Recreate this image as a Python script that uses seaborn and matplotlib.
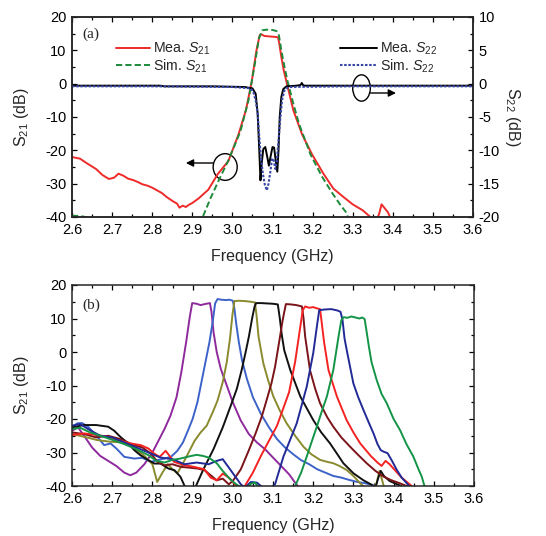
import numpy as np
import pandas as pd
import seaborn as sns
import matplotlib.pyplot as plt
from matplotlib.patches import Ellipse
from matplotlib.ticker import MultipleLocator, FormatStrFormatter

# ---- panel (a): S21 (left axis) and S22 (right axis)
mea_s21_f = [2.6, 2.62, 2.636, 2.66, 2.676, 2.692, 2.705, 2.716, 2.728, 2.74, 2.752, 2.764, 2.776, 2.788,
             2.8, 2.812, 2.824, 2.836, 2.852, 2.862, 2.868, 2.876, 2.884, 2.892, 2.9, 2.916, 2.94, 2.963,
             2.99, 3.015, 3.034, 3.048, 3.06, 3.068, 3.072, 3.08, 3.09, 3.1, 3.11, 3.114, 3.117, 3.122,
             3.128, 3.137, 3.152, 3.174, 3.199, 3.228, 3.252, 3.277, 3.3, 3.325, 3.346, 3.358, 3.366,
             3.372, 3.38, 3.388, 3.398]
mea_s21_v = [-22.0, -22.5, -23.8, -25.6, -27.4, -28.6, -28.2, -27.0, -27.6, -28.5, -28.9, -29.5, -30.2, -30.6,
             -31.2, -32.0, -32.8, -34.0, -35.3, -36.0, -37.2, -36.6, -37.0, -36.3, -35.8, -34.4, -31.8, -27.2,
             -23.2, -15.3, -7.8, 0.5, 10.0, 14.5, 14.8, 14.3, 14.2, 14.1, 14.0, 13.8, 12.0, 8.0,
             4.0, -0.5, -8.0, -15.3, -21.3, -27.2, -31.5, -34.0, -36.2, -38.0, -40.2, -41.5, -39.0,
             -36.2, -37.4, -38.6, -41.5]

sim_s21_f = [2.6, 2.62, 2.638, 2.65, 2.66, 2.9, 2.915, 2.926, 2.945, 2.966, 2.99, 3.02, 3.04, 3.056, 3.066,
             3.074, 3.085, 3.1, 3.11, 3.116, 3.122, 3.13, 3.137, 3.152, 3.166, 3.195, 3.224, 3.25, 3.27,
             3.283, 3.29, 3.3]
sim_s21_v = [-39.6, -39.7, -40.1, -41.5, -45.0, -50.0, -44.0, -40.0, -34.5, -29.0, -23.0, -14.3, -5.0, 6.0, 13.5,
             16.0, 16.2, 16.1, 15.8, 14.5, 10.0, 5.0, 1.0, -6.0, -12.0, -21.3, -28.0, -33.0, -36.5,
             -38.5, -40.5, -44.0]

mea_s22_f = [2.6, 2.7, 2.82, 2.83, 2.95, 3.03, 3.05, 3.058, 3.063, 3.067, 3.07, 3.073, 3.077, 3.082, 3.087,
             3.091, 3.095, 3.1, 3.104, 3.108, 3.112, 3.115, 3.118, 3.122, 3.127, 3.135, 3.16, 3.17, 3.173,
             3.176, 3.18, 3.3, 3.45, 3.6]
mea_s22_v = [-0.3, -0.3, -0.3, -0.4, -0.4, -0.5, -0.7, -1.5, -4.5, -10.0, -14.5, -12.0, -9.8, -9.5, -11.0,
             -12.3, -11.0, -9.5, -9.6, -11.5, -13.2, -10.0, -5.0, -2.0, -0.8, -0.4, -0.3, -0.2, 0.1,
             -0.2, -0.3, -0.3, -0.3, -0.3]

sim_s22_f = [2.6, 2.8, 3.0, 3.045, 3.052, 3.058, 3.063, 3.068, 3.072, 3.076, 3.081, 3.086, 3.09, 3.094,
             3.099, 3.103, 3.107, 3.111, 3.115, 3.119, 3.124, 3.13, 3.14, 3.3, 3.6]
sim_s22_v = [-0.4, -0.4, -0.5, -0.7, -1.2, -2.5, -4.5, -8.8, -11.5, -13.5, -15.2, -16.0, -15.0, -13.5,
             -11.2, -11.5, -12.8, -11.5, -8.5, -5.5, -2.4, -1.0, -0.5, -0.4, -0.4]

# ---- panel (b): measured S21 of eight tuning states
purple_f = [2.6, 2.615, 2.63, 2.65, 2.67, 2.69, 2.71, 2.73, 2.745, 2.76, 2.78, 2.8, 2.815, 2.83, 2.845,
            2.86, 2.872, 2.884, 2.893, 2.899, 2.91, 2.92, 2.93, 2.943, 2.947, 2.952, 2.96, 2.97, 2.985,
            3.0, 3.02, 3.04, 3.06, 3.08, 3.1, 3.12, 3.14, 3.155, 3.165]
purple_v = [-23.5, -22.5, -25.0, -28.5, -31.0, -32.5, -34.0, -36.0, -36.8, -36.0, -33.5, -30.0, -26.5, -23.0, -19.0,
            -13.5, -6.0, 3.0, 10.5, 14.6, 14.4, 14.0, 14.3, 14.6, 12.0, 6.0, 0.0, -5.0, -10.0,
            -15.0, -20.5, -24.5, -27.0, -29.0, -31.5, -34.0, -36.5, -39.0, -40.5]

blue_f = [2.6, 2.613, 2.625, 2.64, 2.663, 2.68, 2.696, 2.712, 2.73, 2.755, 2.775, 2.796, 2.812, 2.83, 2.846,
          2.862, 2.876, 2.89, 2.9, 2.912, 2.922, 2.932, 2.942, 2.95, 2.956, 2.962, 2.972, 2.982, 2.992, 3.0,
          3.004, 3.009, 3.015, 3.023, 3.035, 3.05, 3.07, 3.09, 3.11, 3.13, 3.15, 3.17, 3.19, 3.21, 3.23,
          3.25, 3.27, 3.29, 3.31, 3.33, 3.35, 3.362]
blue_v = [-22.5, -21.3, -21.2, -22.3, -25.3, -27.8, -27.3, -29.0, -31.3, -31.8, -31.6, -32.8, -32.3, -31.8, -31.3,
          -29.5, -27.0, -23.0, -20.0, -15.0, -9.0, -3.0, 3.0, 9.0, 14.5, 15.8, 15.6, 15.5, 15.6, 15.3,
          13.0, 8.0, 3.0, -2.5, -8.0, -13.5, -18.5, -22.5, -26.0, -28.5, -30.5, -32.3, -33.5, -35.0, -36.0,
          -37.0, -37.5, -38.2, -38.8, -39.2, -39.8, -40.5]

olive_f = [2.6, 2.63, 2.663, 2.696, 2.73, 2.75, 2.78, 2.8, 2.812, 2.825, 2.838, 2.85, 2.862, 2.875, 2.89,
           2.905, 2.92, 2.935, 2.95, 2.962, 2.975, 2.985, 2.993, 2.999, 3.004, 3.015, 3.03, 3.045, 3.055,
           3.059, 3.064, 3.076, 3.088, 3.101, 3.117, 3.134, 3.155, 3.176, 3.195, 3.217, 3.235, 3.25, 3.265,
           3.283, 3.3, 3.317, 3.328, 3.345, 3.358, 3.365, 3.372, 3.38]
olive_v = [-24.5, -25.3, -26.3, -26.8, -27.0, -28.3, -31.0, -33.5, -38.8, -36.0, -33.5, -35.0, -36.2, -33.5, -30.0,
           -26.5, -24.0, -22.0, -18.0, -14.5, -9.0, -3.0, 4.0, 11.0, 15.2, 15.3, 15.2, 15.0, 14.8,
           11.0, 4.6, -3.4, -8.5, -13.3, -17.5, -21.3, -25.0, -28.3, -30.5, -32.2, -32.8, -33.2, -34.0,
           -35.2, -37.0, -39.2, -40.5, -42.0, -39.0, -35.5, -38.5, -42.0]

black_f = [2.6, 2.63, 2.66, 2.69, 2.705, 2.72, 2.74, 2.755, 2.77, 2.79, 2.805, 2.82, 2.84, 2.855, 2.87,
           2.882, 2.895, 2.905, 2.912, 2.927, 2.952, 2.975, 2.995, 3.01, 3.022, 3.032, 3.04, 3.048, 3.054,
           3.058, 3.07, 3.085, 3.1, 3.112, 3.117, 3.122, 3.128, 3.143, 3.168, 3.2, 3.22, 3.242, 3.26,
           3.275, 3.3, 3.325, 3.345, 3.355, 3.362, 3.368, 3.376, 3.39, 3.405, 3.415, 3.425]
black_v = [-22.5, -21.8, -21.8, -22.3, -23.5, -25.3, -27.3, -29.3, -30.8, -32.3, -33.3, -33.3, -34.8, -35.3, -37.3,
           -40.5, -43.0, -41.0, -39.0, -35.0, -29.0, -22.5, -16.0, -11.0, -5.4, 0.0, 4.6, 10.0, 13.5,
           14.6, 14.6, 14.5, 14.4, 14.2, 10.0, 5.0, 0.5, -5.4, -13.3, -20.3, -24.0, -27.3, -30.5,
           -33.2, -36.2, -38.3, -39.6, -40.5, -37.5, -35.5, -37.0, -38.5, -39.3, -39.8, -40.5]

maroon_f = [2.6, 2.63, 2.66, 2.69, 2.72, 2.754, 2.775, 2.796, 2.813, 2.83, 2.85, 2.871, 2.89, 2.913, 2.93,
            2.945, 2.96, 2.975, 2.99, 3.0, 3.02, 3.04, 3.056, 3.072, 3.085, 3.096, 3.105, 3.112, 3.118,
            3.124, 3.132, 3.145, 3.158, 3.172, 3.176, 3.18, 3.192, 3.205, 3.217, 3.235, 3.25, 3.27, 3.292,
            3.31, 3.333, 3.355, 3.375, 3.395, 3.416, 3.442]
maroon_v = [-24.0, -24.5, -25.5, -25.0, -26.0, -27.8, -28.5, -30.3, -32.8, -33.8, -33.5, -34.3, -34.5, -34.8, -35.3,
            -36.8, -38.3, -37.8, -39.5, -38.5, -35.0, -29.3, -24.5, -19.3, -14.0, -9.4, -4.5, 0.6, 5.0,
            9.5, 14.3, 14.2, 14.0, 13.6, 10.0, 4.6, -5.4, -11.0, -15.3, -19.5, -22.3, -25.5, -28.3,
            -30.5, -33.2, -35.5, -37.2, -38.3, -39.2, -40.5]

red_f = [2.6, 2.63, 2.663, 2.69, 2.713, 2.746, 2.771, 2.79, 2.804, 2.818, 2.833, 2.854, 2.879, 2.904, 2.929,
         2.945, 2.96, 2.975, 2.99, 3.0, 3.012, 3.02, 3.03, 3.05, 3.07, 3.09, 3.11, 3.125, 3.14, 3.155,
         3.166, 3.174, 3.18, 3.19, 3.2, 3.21, 3.217, 3.221, 3.227, 3.238, 3.259, 3.283, 3.3, 3.317, 3.343,
         3.36, 3.37, 3.38, 3.39, 3.405, 3.42, 3.435, 3.45]
red_v = [-24.8, -24.3, -24.8, -25.3, -26.3, -27.3, -27.8, -28.8, -30.3, -31.3, -29.5, -32.8, -33.8, -34.3, -35.0,
         -37.5, -38.3, -36.3, -37.5, -38.8, -40.5, -41.5, -40.0, -36.0, -31.0, -26.5, -22.0, -17.0, -12.0, -3.0,
         6.0, 12.5, 13.6, 13.2, 13.4, 13.0, 12.8, 9.0, 3.0, -5.4, -13.3, -20.3, -24.0, -27.3, -31.0,
         -33.0, -34.0, -32.5, -33.5, -35.5, -37.5, -39.0, -40.5]

navy_f = [2.6, 2.62, 2.64, 2.67, 2.7, 2.73, 2.76, 2.79, 2.82, 2.85, 2.88, 2.91, 2.94, 2.96, 2.975,
          2.99, 3.005, 3.02, 3.03, 3.045, 3.06, 3.075, 3.09, 3.105, 3.126, 3.159, 3.184, 3.2, 3.209, 3.215,
          3.23, 3.245, 3.26, 3.268, 3.273, 3.278, 3.285, 3.3, 3.312, 3.325, 3.338, 3.35, 3.36, 3.368,
          3.376, 3.385, 3.396, 3.408, 3.42, 3.433, 3.442]
navy_v = [-22.0, -21.5, -23.0, -25.0, -25.5, -27.0, -28.5, -30.0, -31.5, -32.0, -33.5, -33.0, -33.5, -32.5, -32.0,
          -34.5, -37.0, -39.5, -40.5, -38.8, -39.0, -40.5, -41.0, -39.5, -31.2, -21.3, -10.3, -0.4, 7.5, 12.5,
          12.7, 12.8, 12.4, 12.0, 9.5, 4.0, -0.4, -9.4, -13.5, -17.3, -21.0, -24.3, -27.5, -29.3,
          -29.8, -30.2, -32.5, -35.2, -37.5, -39.2, -40.5]

green_f = [2.6, 2.62, 2.645, 2.67, 2.7, 2.73, 2.76, 2.79, 2.81, 2.83, 2.85, 2.87, 2.89, 2.91, 2.925,
           2.94, 2.96, 2.975, 2.99, 3.0, 3.018, 3.03, 3.045, 3.055, 3.065, 3.08, 3.12, 3.145, 3.155, 3.17,
           3.184, 3.197, 3.209, 3.222, 3.234, 3.25, 3.263, 3.27, 3.276, 3.285, 3.295, 3.305, 3.315, 3.322,
           3.328, 3.333, 3.338, 3.345, 3.358, 3.37, 3.383, 3.4, 3.416, 3.432, 3.449, 3.462, 3.47, 3.478]
green_v = [-23.0, -22.6, -24.0, -25.0, -26.2, -27.5, -29.0, -30.8, -32.5, -33.0, -32.2, -31.8, -31.2, -30.7, -31.0,
           -31.5, -33.2, -35.5, -37.5, -38.7, -40.3, -41.5, -39.3, -39.0, -40.5, -42.0, -43.0, -41.5, -40.0, -36.0,
           -31.2, -26.5, -22.3, -17.5, -13.3, -5.4, 4.6, 9.5, 10.4, 10.2, 10.6, 10.3, 10.0, 10.3,
           9.8, 6.0, 2.0, -3.0, -8.4, -12.5, -15.3, -20.0, -23.3, -27.5, -31.2, -35.0, -37.2, -40.5]

curve_names = ['purple', 'blue', 'olive', 'black', 'maroon', 'red', 'navy', 'green']
curve_colors = ['#8e2a9c', '#3d63c9', '#8a8a2e', '#111111', '#7a1418', '#f52222', '#222a96', '#139447']

# Style
sns.set_style('ticks')
plt.rcParams['font.family'] = ['Liberation Sans', 'DejaVu Sans']
plt.rcParams['mathtext.fontset'] = 'custom'
plt.rcParams['mathtext.rm'] = 'Liberation Sans'
plt.rcParams['mathtext.it'] = 'Liberation Sans:italic'
plt.rcParams['axes.unicode_minus'] = False
plt.rcParams['axes.linewidth'] = 1.1
for a in ['xtick', 'ytick']:
    plt.rcParams[a + '.direction'] = 'in'
    plt.rcParams[a + '.major.size'] = 3.5
    plt.rcParams[a + '.minor.size'] = 2.2
    plt.rcParams[a + '.major.width'] = 0.9
    plt.rcParams[a + '.minor.width'] = 0.9
    plt.rcParams[a + '.labelsize'] = 10.5
    plt.rcParams[a + '.color'] = 'black'


def style_freq_axis(ax):
    ax.set_xlim(2.6, 3.6)
    ax.xaxis.set_major_locator(MultipleLocator(0.1))
    ax.xaxis.set_minor_locator(MultipleLocator(0.05))
    ax.xaxis.set_major_formatter(FormatStrFormatter('%.1f'))
    ax.set_ylim(-40, 20)
    ax.yaxis.set_major_locator(MultipleLocator(10))
    ax.yaxis.set_minor_locator(MultipleLocator(5))
    ax.set_xlabel('Frequency (GHz)', fontsize=11.5, labelpad=9)
    ax.set_ylabel('S$_{21}$ (dB)', fontsize=11.5, labelpad=10)
    ax.tick_params(which='both', top=True, pad=4)


fig = plt.figure(figsize=(5.46, 5.36), dpi=100)
ax1 = fig.add_axes([72 / 546, 1 - 217 / 536, 401 / 546, 200 / 536])
ax2 = fig.add_axes([72 / 546, 1 - 486 / 536, 402 / 546, 201 / 536])

# ---- panel (a)
sns.lineplot(x=mea_s21_f, y=mea_s21_v, ax=ax1, color='#ee2a2a', lw=1.4, estimator=None, sort=False)
sns.lineplot(x=sim_s21_f, y=sim_s21_v, ax=ax1, color='#1d8a3a', lw=1.4, ls=(0, (3.2, 1.6)),
             estimator=None, sort=False)
style_freq_axis(ax1)
ax1.tick_params(which='both', right=False)

ax1r = ax1.twinx()
sns.lineplot(x=mea_s22_f, y=mea_s22_v, ax=ax1r, color='black', lw=1.4, estimator=None, sort=False)
sns.lineplot(x=sim_s22_f, y=sim_s22_v, ax=ax1r, color='#3747a8', lw=1.5, ls=(0, (1.2, 0.8)),
             estimator=None, sort=False)
ax1r.set_ylim(-20, 10)
ax1r.yaxis.set_major_locator(MultipleLocator(5))
ax1r.yaxis.set_minor_locator(MultipleLocator(2.5))
ax1r.tick_params(which='both', direction='in', pad=4)
ax1r.set_ylabel('S$_{22}$ (dB)', fontsize=11.5, rotation=270, va='bottom', labelpad=2)

leg1 = ax1.legend(handles=ax1.lines[:2], labels=['Mea. $S_{21}$', 'Sim. $S_{21}$'],
                  loc='upper left', bbox_to_anchor=(0.11, 0.88), frameon=False, fontsize=10.2,
                  handlelength=2.4, handletextpad=0.2, labelspacing=0.0, borderpad=0, borderaxespad=0)
leg2 = ax1r.legend(handles=ax1r.lines[:2], labels=['Mea. $S_{22}$', 'Sim. $S_{22}$'],
                   loc='upper left', bbox_to_anchor=(0.668, 0.88), frameon=False, fontsize=10.2,
                   handlelength=2.6, handletextpad=0.2, labelspacing=0.0, borderpad=0, borderaxespad=0)

# circles + arrows telling which axis each pair belongs to
ax1.add_patch(Ellipse((2.982, -25.0), 0.06, 8.0, fill=False, ec='black', lw=1.0))
ax1.annotate('', xy=(2.884, -23.8), xytext=(2.952, -23.8),
             arrowprops=dict(arrowstyle='-|>', color='black', lw=1.0, shrinkA=0, shrinkB=0,
                             mutation_scale=11))
ax1.add_patch(Ellipse((3.322, -1.3), 0.044, 7.9, fill=False, ec='black', lw=1.0))
ax1.annotate('', xy=(3.408, -2.8), xytext=(3.344, -2.8),
             arrowprops=dict(arrowstyle='-|>', color='black', lw=1.0, shrinkA=0, shrinkB=0,
                             mutation_scale=11))
ax1.text(0.026, 0.945, '(a)', transform=ax1.transAxes, fontsize=11, va='top',
         family=['Liberation Serif', 'DejaVu Serif'])

# ---- panel (b)
curve_f = [purple_f, blue_f, olive_f, black_f, maroon_f, red_f, navy_f, green_f]
curve_v = [purple_v, blue_v, olive_v, black_v, maroon_v, red_v, navy_v, green_v]
df_b = pd.concat([pd.DataFrame({'f': f, 'v': v, 'curve': n})
                  for n, f, v in zip(curve_names, curve_f, curve_v)], ignore_index=True)
sns.lineplot(data=df_b, x='f', y='v', hue='curve', palette=dict(zip(curve_names, curve_colors)),
             estimator=None, sort=False, lw=1.4, legend=False, ax=ax2)
style_freq_axis(ax2)
ax2.tick_params(which='both', right=True)
ax2.text(0.026, 0.935, '(b)', transform=ax2.transAxes, fontsize=11, va='top',
         family=['Liberation Serif', 'DejaVu Serif'])

fig.savefig('out.png', dpi=100)
